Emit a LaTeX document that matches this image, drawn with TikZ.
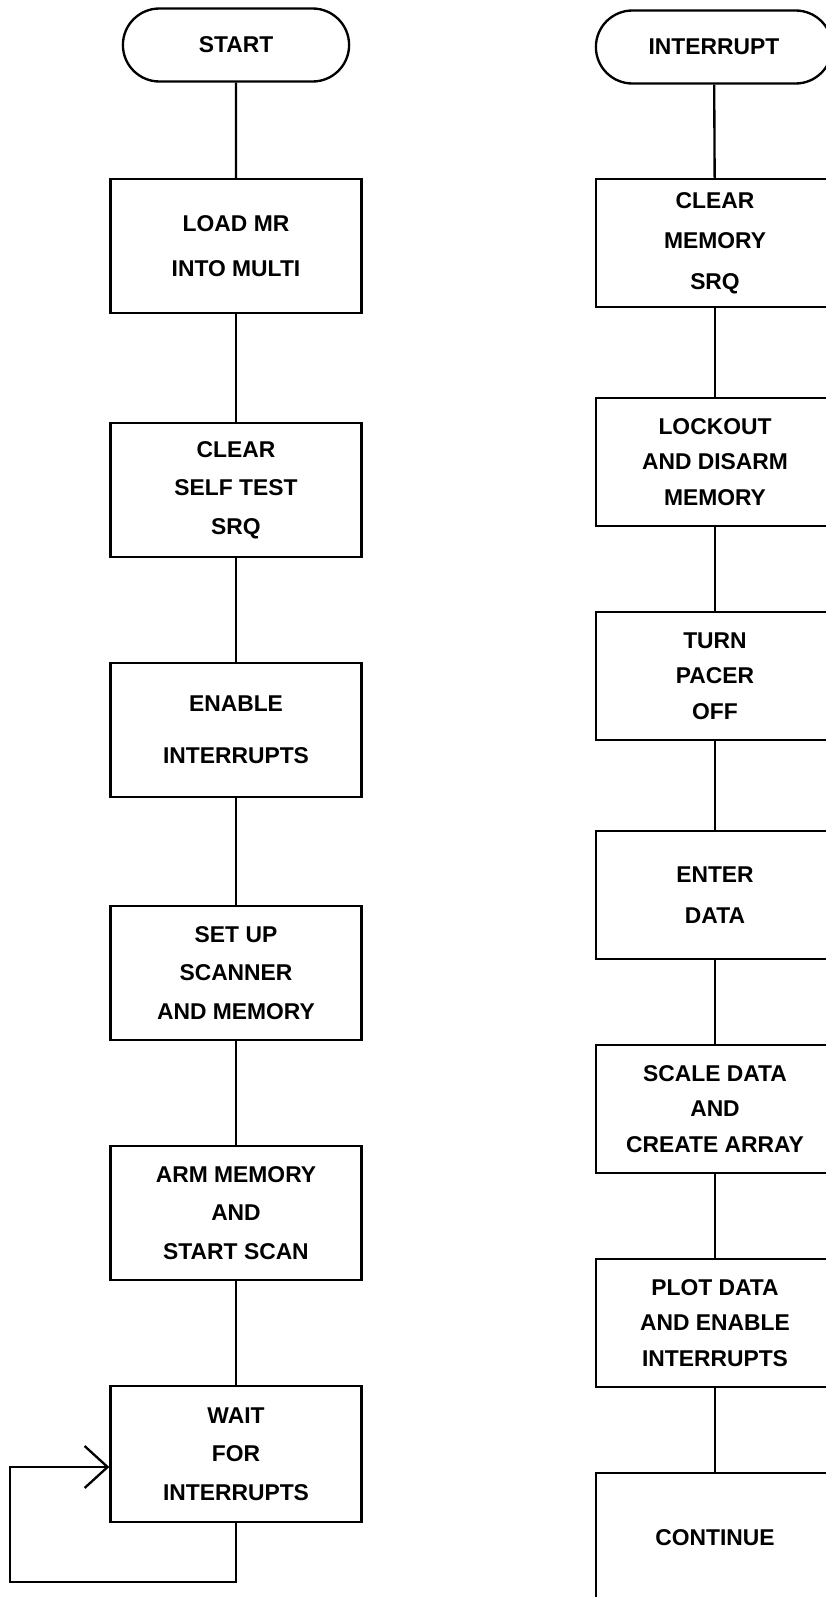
\documentclass[tikz,border=0pt]{standalone}
\usepackage{fontspec}
\setmainfont{Liberation Sans}
\usetikzlibrary{positioning,arrows.meta,shapes.misc}

\begin{document}
\begin{tikzpicture}[x=0.3mm, y=-0.3mm, line width=2pt,
    >={Straight Barb[length=6.9mm, width=12.6mm]},
    font=\bfseries\fontsize{19.5}{33}\selectfont,
    term/.style={rounded rectangle, draw, minimum width=#1*0.3mm, minimum height=73*0.3mm},
    block/.style={rectangle, draw, align=center, minimum width=251*0.3mm, minimum height=134*0.3mm},
    rblock/.style={block, font=\bfseries\fontsize{19.5}{30.5}\selectfont, minimum width=238*0.3mm, minimum height=128*0.3mm}]
    \useasboundingbox (0,0) rectangle (826,1597);
    \fill[white] (0,0) rectangle (826,1597);
    \clip (0,0) rectangle (826,1597);

    % main program
    \node[term=234] (start) at (236,45) {START};
    \node[block] (load) at (236,246) {LOAD MR\\[5pt]INTO MULTI};
    \node[block] (selftest) at (236,490) {CLEAR\\SELF TEST\\SRQ};
    \node[block] (enable) at (236,730) {ENABLE\\[11pt]INTERRUPTS};
    \node[block] (setup) at (236,973) {SET UP\\SCANNER\\AND MEMORY};
    \node[block] (arm) at (236,1213) {ARM MEMORY\\AND\\START SCAN};
    \node[block, minimum height=136*0.3mm] (wait) at (236,1454) {WAIT\\FOR\\INTERRUPTS};

    % interrupt routine
    \node[term=244] (intr) at (714,47) {INTERRUPT};
    \node[rblock] (clrmem) at (715,243) {CLEAR\\[4pt]MEMORY\\[4pt]SRQ};
    \node[rblock] (lockout) at (715,462) {LOCKOUT\\AND DISARM\\MEMORY};
    \node[rblock] (pacer) at (715,676) {TURN\\PACER\\OFF};
    \node[rblock] (enter) at (715,895) {ENTER\\[4pt]DATA};
    \node[rblock] (scale) at (715,1109) {SCALE DATA\\AND\\CREATE ARRAY};
    \node[rblock] (plot) at (715,1323) {PLOT DATA\\AND ENABLE\\INTERRUPTS};
    \node[rblock, minimum height=130*0.3mm] (cont) at (715,1538) {CONTINUE};

    \draw (start) -- (load);
    \draw (load) -- (selftest);
    \draw (selftest) -- (enable);
    \draw (enable) -- (setup);
    \draw (setup) -- (arm);
    \draw (arm) -- (wait);

    \coordinate (lpcorner) at (10,1582);
    \coordinate (lpleft) at (10,1467);
    \draw[->] (wait.south) |- (lpcorner) -- (lpleft) -- (lpleft -| wait.west);

    \draw (intr) -- (clrmem);
    \draw (clrmem) -- (lockout);
    \draw (lockout) -- (pacer);
    \draw (pacer) -- (enter);
    \draw (enter) -- (scale);
    \draw (scale) -- (plot);
    \draw (plot) -- (cont);
\end{tikzpicture}
\end{document}
